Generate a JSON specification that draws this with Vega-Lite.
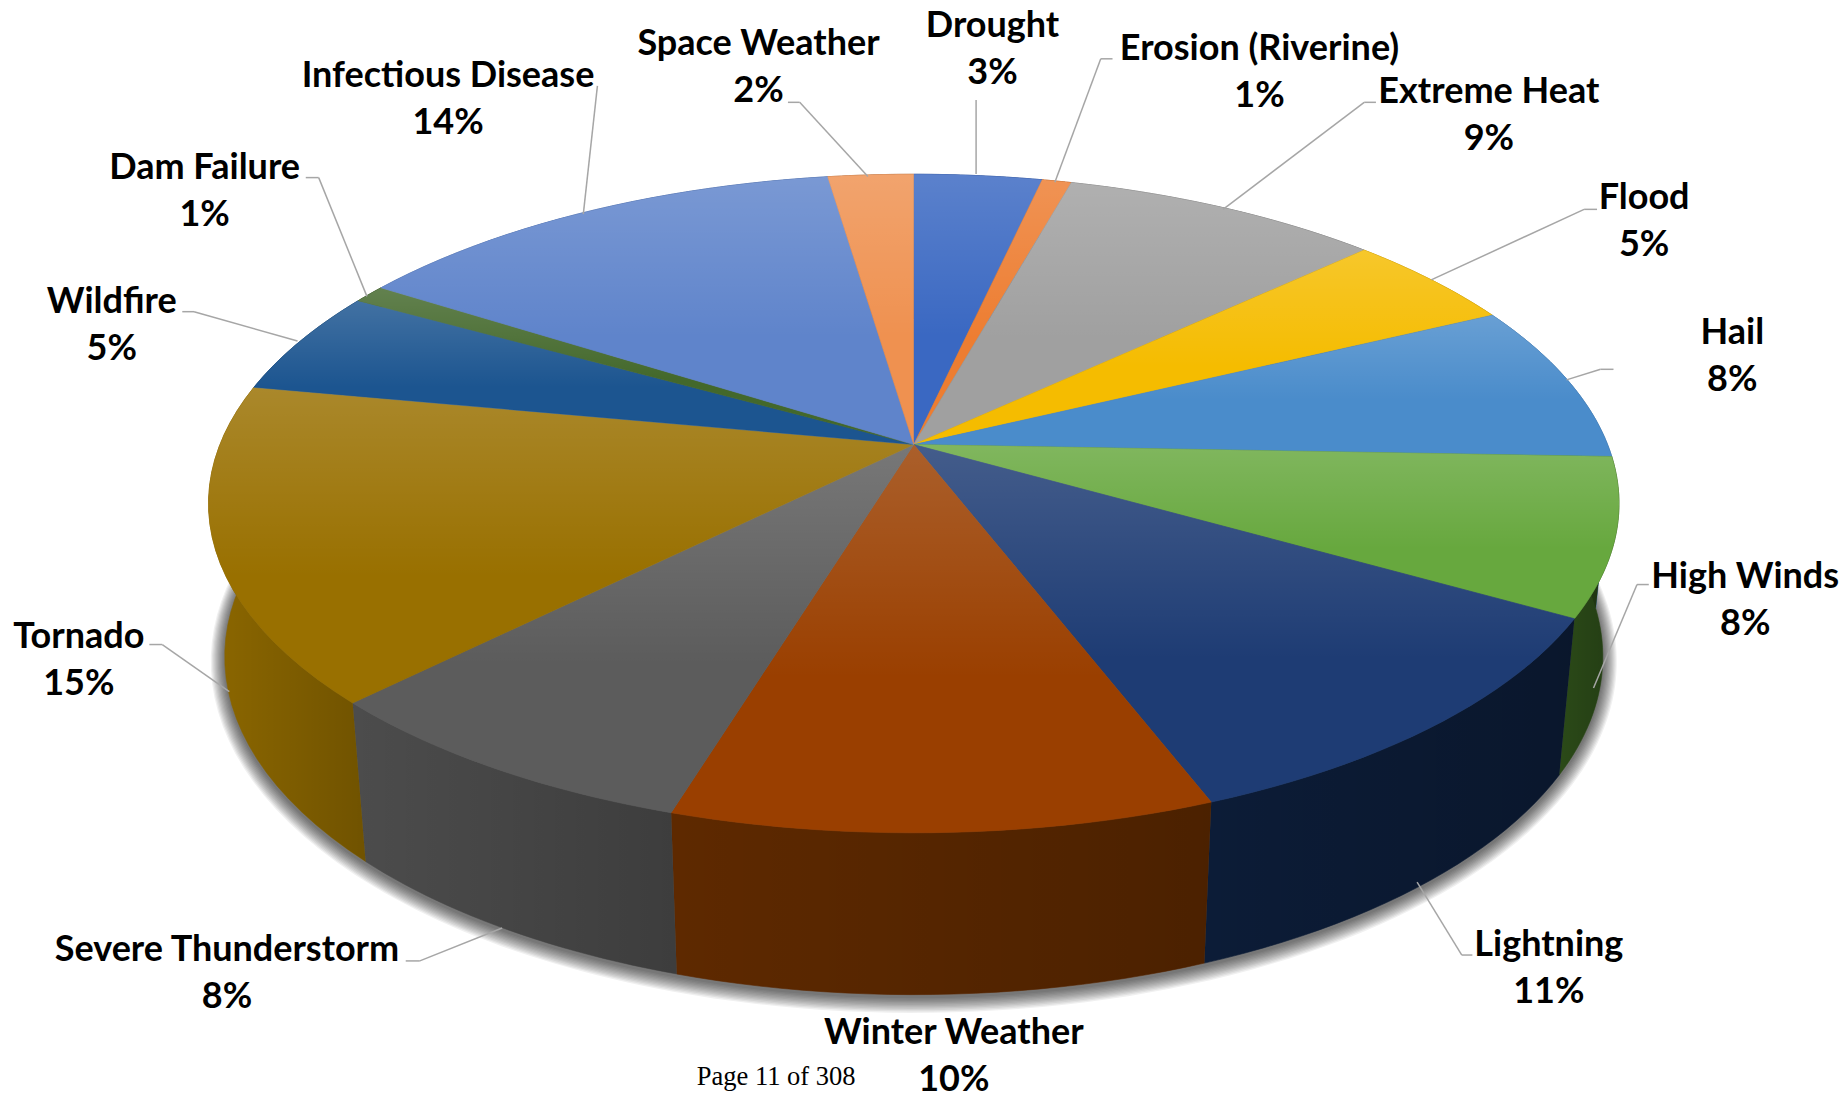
{
  "$schema": "https://vega.github.io/schema/vega-lite/v6.json",
  "width": 1844,
  "height": 1095,
  "padding": 0,
  "autosize": {"type": "none"},
  "background": "white",
  "config": {"view": {"stroke": null}, "axis": {"disable": true}},
  "datasets": {
    "slices": [
      {"seat": 1, "hazard": "Drought", "share": 3.49},
      {"seat": 2, "hazard": "Erosion (Riverine)", "share": 0.8},
      {"seat": 3, "hazard": "Extreme Heat", "share": 8.7},
      {"seat": 4, "hazard": "Flood", "share": 4.8},
      {"seat": 5, "hazard": "Hail", "share": 7.8},
      {"seat": 6, "hazard": "High Winds", "share": 7.7},
      {"seat": 7, "hazard": "Lightning", "share": 10.9},
      {"seat": 8, "hazard": "Winter Weather", "share": 10.49},
      {"seat": 9, "hazard": "Severe Thunderstorm", "share": 7.8},
      {"seat": 10, "hazard": "Tornado", "share": 15.49},
      {"seat": 11, "hazard": "Wildfire", "share": 5.2},
      {"seat": 12, "hazard": "Dam Failure", "share": 0.9},
      {"seat": 13, "hazard": "Infectious Disease", "share": 13.6},
      {"seat": 14, "hazard": "Space Weather", "share": 2.33}
    ],
    "callouts": [
      {"hazard": "Drought", "labelX": 844, "labelY": 22.5, "fromX": 830, "fromY": 148, "kneeX": 830, "kneeY": 85, "tailX": 830},
      {"hazard": "Erosion (Riverine)", "labelX": 1071, "labelY": 41.5, "fromX": 897, "fromY": 155, "kneeX": 936, "kneeY": 50, "tailX": 946},
      {"hazard": "Extreme Heat", "labelX": 1266, "labelY": 78.5, "fromX": 1040, "fromY": 178, "kneeX": 1160, "kneeY": 87, "tailX": 1170},
      {"hazard": "Flood", "labelX": 1398, "labelY": 168.5, "fromX": 1217, "fromY": 238, "kneeX": 1347, "kneeY": 178, "tailX": 1358},
      {"hazard": "Hail", "labelX": 1473, "labelY": 283.5, "fromX": 1332, "fromY": 323, "kneeX": 1361, "kneeY": 314, "tailX": 1372},
      {"hazard": "High Winds", "labelX": 1484, "labelY": 490.5, "fromX": 1355, "fromY": 585, "kneeX": 1392, "kneeY": 497, "tailX": 1402},
      {"hazard": "Lightning", "labelX": 1317, "labelY": 803.5, "fromX": 1205, "fromY": 750, "kneeX": 1243, "kneeY": 812, "tailX": 1252},
      {"hazard": "Winter Weather", "labelX": 811, "labelY": 878.5},
      {"hazard": "Severe Thunderstorm", "labelX": 193, "labelY": 807.5, "fromX": 427, "fromY": 789, "kneeX": 357, "kneeY": 817, "tailX": 345},
      {"hazard": "Tornado", "labelX": 67, "labelY": 541.5, "fromX": 195, "fromY": 588, "kneeX": 138, "kneeY": 548, "tailX": 127},
      {"hazard": "Wildfire", "labelX": 95, "labelY": 256.5, "fromX": 253, "fromY": 290, "kneeX": 165, "kneeY": 265, "tailX": 155},
      {"hazard": "Dam Failure", "labelX": 174, "labelY": 142.5, "fromX": 312, "fromY": 252, "kneeX": 271, "kneeY": 151, "tailX": 260},
      {"hazard": "Infectious Disease", "labelX": 381, "labelY": 64.5, "fromX": 496, "fromY": 182, "kneeX": 508, "kneeY": 73, "tailX": 508},
      {"hazard": "Space Weather", "labelX": 645, "labelY": 37.5, "fromX": 738, "fromY": 150, "kneeX": 680, "kneeY": 87, "tailX": 670}
    ]
  },
  "layer": [
    {
      "data": {"name": "slices"},
      "transform": [
        {"window": [{"op": "sum", "field": "share", "as": "end"}], "sort": [{"field": "seat"}]},
        {"calculate": "datum.end-datum.share", "as": "start"},
        {"calculate": "sequence(-0.04,1.02,0.04)", "as": "t"},
        {"flatten": ["t"]},
        {"calculate": "2*PI*(datum.start+max(datum.t,0)*datum.share)/100", "as": "angle"},
        {"calculate": "1+0.179*cos(datum.angle)", "as": "depth"},
        {"calculate": "(datum.t<0?0:590)*sin(datum.angle)/datum.depth", "as": "dx"},
        {"calculate": "(datum.t<0?0:-271)*cos(datum.angle)/datum.depth", "as": "dy"}
      ],
      "layer": [
        {
          "transform": [
            {"filter": "datum.t>=0"},
            {"calculate": "[1,2,3,4,5,6,7,8,9,10,11,12]", "as": "spread"},
            {"flatten": ["spread"]},
            {"calculate": "777+0.977*datum.dx*(1+datum.spread/590)", "as": "px"},
            {"calculate": "378+129+2+1.026*datum.dy*(1+datum.spread/300)", "as": "py"}
          ],
          "mark": {"type": "line", "fill": "#000000", "fillOpacity": 0.06, "stroke": null, "strokeWidth": 0},
          "encoding": {
            "x": {"field": "px", "type": "quantitative", "scale": {"domain": [0, 1568], "nice": false, "zero": false}},
            "y": {"field": "py", "type": "quantitative", "scale": {"domain": [931, 0], "nice": false, "zero": false}},
            "detail": {"field": "spread"},
            "order": {"field": "angle"}
          }
        },
        {
          "transform": [
            {"filter": "datum.t>=0"},
            {"calculate": "[0,1]", "as": "edge"},
            {"flatten": ["edge"]},
            {"calculate": "datum.edge?2-datum.t:datum.t", "as": "walk"},
            {"calculate": "777+datum.dx*(datum.edge?0.977:1)", "as": "px"},
            {"calculate": "378+datum.dy*(datum.edge?1.026:1)+(datum.edge?129:0)", "as": "py"}
          ],
          "layer": [
            {
              "mark": {"type": "line", "strokeWidth": 0.6},
              "encoding": {
                "x": {"field": "px", "type": "quantitative", "scale": {"domain": [0, 1568], "nice": false, "zero": false}},
                "y": {"field": "py", "type": "quantitative", "scale": {"domain": [931, 0], "nice": false, "zero": false}},
                "detail": {"field": "hazard"},
                "order": {"field": "walk"},
                "fill": {
                  "field": "hazard", "type": "nominal", "legend": null,
                  "scale": {
                    "domain": ["Drought", "Erosion (Riverine)", "Extreme Heat", "Flood", "Hail", "High Winds", "Lightning", "Winter Weather", "Severe Thunderstorm", "Tornado", "Wildfire", "Dam Failure", "Infectious Disease", "Space Weather"],
                    "range": ["#29457c", "#8f4a1d", "#636363", "#997300", "#37658f", "#2b4a18", "#0c1c37", "#5e2900", "#4c4c4c", "#8c6700", "#153a5a", "#28401a", "#3e5a8e", "#8f5a36"]
                  }
                },
                "stroke": {
                  "field": "hazard", "type": "nominal", "legend": null,
                  "scale": {
                    "domain": ["Drought", "Erosion (Riverine)", "Extreme Heat", "Flood", "Hail", "High Winds", "Lightning", "Winter Weather", "Severe Thunderstorm", "Tornado", "Wildfire", "Dam Failure", "Infectious Disease", "Space Weather"],
                    "range": ["#29457c", "#8f4a1d", "#636363", "#997300", "#37658f", "#2b4a18", "#0c1c37", "#5e2900", "#4c4c4c", "#8c6700", "#153a5a", "#28401a", "#3e5a8e", "#8f5a36"]
                  }
                }
              }
            },
            {
              "mark": {
                "type": "line", "stroke": null, "strokeWidth": 0,
                "fill": {"gradient": "linear", "x1": 0, "y1": 0, "x2": 1, "y2": 0, "stops": [{"offset": 0, "color": "rgba(0,0,0,0)"}, {"offset": 1, "color": "rgba(0,0,0,0.2)"}]}
              },
              "encoding": {
                "x": {"field": "px", "type": "quantitative", "scale": {"domain": [0, 1568], "nice": false, "zero": false}},
                "y": {"field": "py", "type": "quantitative", "scale": {"domain": [931, 0], "nice": false, "zero": false}},
                "detail": {"field": "hazard"},
                "order": {"field": "walk"}
              }
            }
          ]
        },
        {
          "transform": [
            {"calculate": "777+datum.dx", "as": "px"},
            {"calculate": "378+datum.dy", "as": "py"}
          ],
          "layer": [
            {
              "mark": {"type": "line", "strokeWidth": 0.6},
              "encoding": {
                "x": {"field": "px", "type": "quantitative", "scale": {"domain": [0, 1568], "nice": false, "zero": false}},
                "y": {"field": "py", "type": "quantitative", "scale": {"domain": [931, 0], "nice": false, "zero": false}},
                "detail": {"field": "hazard"},
                "order": {"field": "t"},
                "fill": {
                  "field": "hazard", "type": "nominal", "legend": null,
                  "scale": {
                    "domain": ["Drought", "Erosion (Riverine)", "Extreme Heat", "Flood", "Hail", "High Winds", "Lightning", "Winter Weather", "Severe Thunderstorm", "Tornado", "Wildfire", "Dam Failure", "Infectious Disease", "Space Weather"],
                    "range": ["#3a68c2", "#ed7d31", "#a0a0a0", "#f5bc00", "#4a8ccb", "#67a83e", "#1e3c74", "#9a3f00", "#5c5c5c", "#997000", "#1c5590", "#43682b", "#5f84cb", "#ef9150"]
                  }
                },
                "stroke": {
                  "field": "hazard", "type": "nominal", "legend": null,
                  "scale": {
                    "domain": ["Drought", "Erosion (Riverine)", "Extreme Heat", "Flood", "Hail", "High Winds", "Lightning", "Winter Weather", "Severe Thunderstorm", "Tornado", "Wildfire", "Dam Failure", "Infectious Disease", "Space Weather"],
                    "range": ["#3a68c2", "#ed7d31", "#a0a0a0", "#f5bc00", "#4a8ccb", "#67a83e", "#1e3c74", "#9a3f00", "#5c5c5c", "#997000", "#1c5590", "#43682b", "#5f84cb", "#ef9150"]
                  }
                }
              }
            },
            {
              "mark": {
                "type": "line", "stroke": null, "strokeWidth": 0,
                "fill": {"gradient": "linear", "x1": 0, "y1": 0, "x2": 0, "y2": 1, "stops": [{"offset": 0, "color": "rgba(255,255,255,0.17)"}, {"offset": 0.6, "color": "rgba(255,255,255,0)"}]}
              },
              "encoding": {
                "x": {"field": "px", "type": "quantitative", "scale": {"domain": [0, 1568], "nice": false, "zero": false}},
                "y": {"field": "py", "type": "quantitative", "scale": {"domain": [931, 0], "nice": false, "zero": false}},
                "detail": {"field": "hazard"},
                "order": {"field": "t"}
              }
            }
          ]
        }
      ],
      "resolve": {"scale": {"fill": "independent", "stroke": "independent"}}
    },
    {
      "data": {"name": "callouts"},
      "transform": [
        {"lookup": "hazard", "from": {"data": {"name": "slices"}, "key": "hazard", "fields": ["share"]}},
        {"calculate": "datum.hazard+'\\n'+format(datum.share,'.0f')+'%'", "as": "caption"}
      ],
      "layer": [
        {
          "transform": [{"filter": "isValid(datum.fromX)"}],
          "mark": {"type": "rule", "stroke": "#a6a6a6", "strokeWidth": 1.5},
          "encoding": {
            "x": {"field": "fromX", "type": "quantitative", "scale": {"domain": [0, 1568], "nice": false, "zero": false}},
            "y": {"field": "fromY", "type": "quantitative", "scale": {"domain": [931, 0], "nice": false, "zero": false}},
            "x2": {"field": "kneeX"},
            "y2": {"field": "kneeY"}
          }
        },
        {
          "transform": [{"filter": "isValid(datum.fromX)"}],
          "mark": {"type": "rule", "stroke": "#a6a6a6", "strokeWidth": 1.5},
          "encoding": {
            "x": {"field": "kneeX", "type": "quantitative", "scale": {"domain": [0, 1568], "nice": false, "zero": false}},
            "y": {"field": "kneeY", "type": "quantitative", "scale": {"domain": [931, 0], "nice": false, "zero": false}},
            "x2": {"field": "tailX"},
            "y2": {"field": "kneeY"}
          }
        },
        {
          "mark": {"type": "text", "font": "Lato", "fontWeight": "bold", "fontSize": 36, "lineBreak": "\n", "lineHeight": 47, "align": "center", "baseline": "middle", "color": "#000000"},
          "encoding": {
            "x": {"field": "labelX", "type": "quantitative", "scale": {"domain": [0, 1568], "nice": false, "zero": false}},
            "y": {"field": "labelY", "type": "quantitative", "scale": {"domain": [931, 0], "nice": false, "zero": false}},
            "text": {"field": "caption"}
          }
        }
      ]
    },
    {
      "data": {"values": [{"page": "Page 11 of 308", "spotX": 660, "spotY": 916}]},
      "mark": {"type": "text", "font": "Liberation Serif", "fontSize": 26.5, "align": "center", "baseline": "middle", "color": "#000000"},
      "encoding": {
        "x": {"field": "spotX", "type": "quantitative", "scale": {"domain": [0, 1568], "nice": false, "zero": false}},
        "y": {"field": "spotY", "type": "quantitative", "scale": {"domain": [931, 0], "nice": false, "zero": false}},
        "text": {"field": "page"}
      }
    }
  ]
}
